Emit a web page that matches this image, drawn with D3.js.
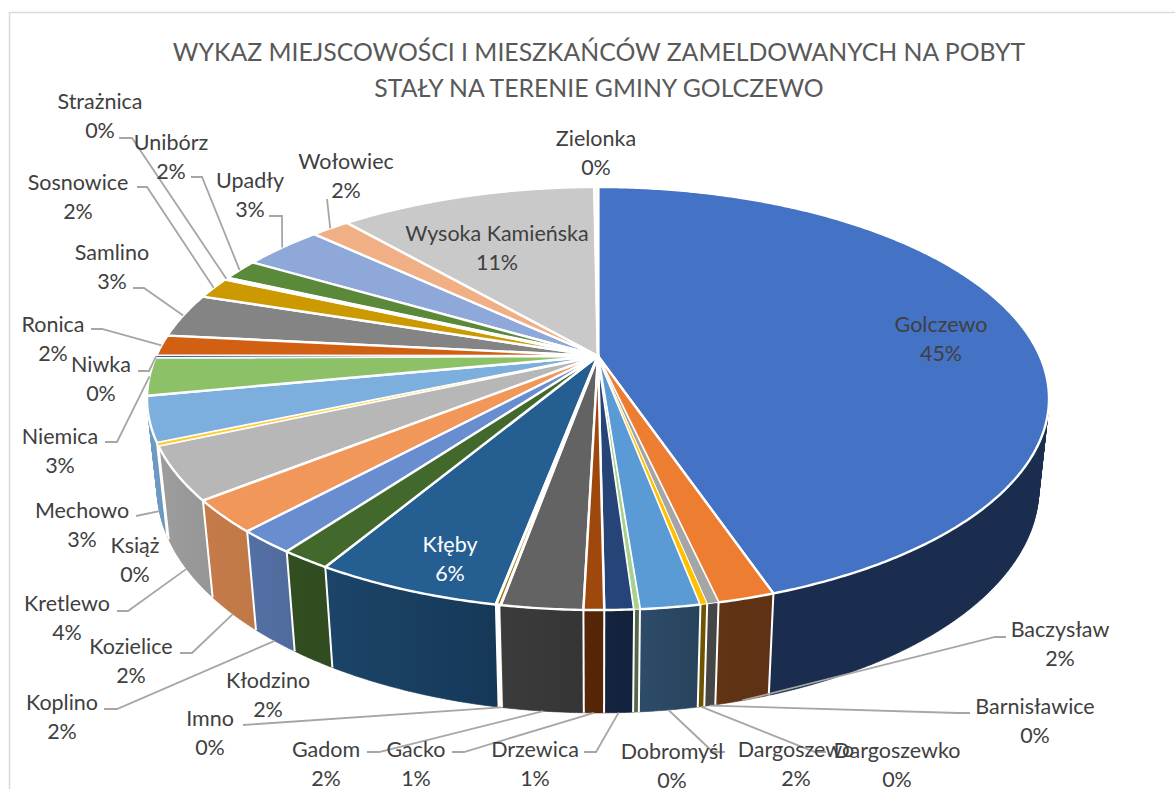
<!DOCTYPE html>
<html><head><meta charset="utf-8">
<style>html,body{margin:0;padding:0;background:#fff}svg{display:block}</style>
<script src="https://cdn.jsdelivr.net/npm/d3@7/dist/d3.min.js"></script>
</head><body><svg id="c" width="1175" height="789"></svg>
<script>
const titleLines = ["WYKAZ MIEJSCOWOŚCI I MIESZKAŃCÓW ZAMELDOWANYCH NA POBYT","STAŁY NA TERENIE GMINY GOLCZEWO"];
const categories = ["Golczewo","Baczysław","Barnisławice","Dargoszewko","Dargoszewo","Dobromyśl","Drzewica","Gacko","Gadom","Imno","Kłęby","Kłodzino","Koplino","Kozielice","Kretlewo","Książ","Mechowo","Niemica","Niwka","Ronica","Samlino","Sosnowice","Strażnica","Unibórz","Upadły","Wołowiec","Wysoka Kamieńska","Zielonka"];
const shares = [44.8,1.69,0.34,0.2,1.77,0.17,0.86,0.6,2.41,0.14,5.56,1.52,1.78,2.47,4.04,0.22,3.43,2.89,0.16,1.6,3.4,1.66,0.14,1.64,3.49,1.67,11.22,0.15];
const colors = ["#4472c4","#ed7d31","#a5a5a5","#ffc000","#5b9bd5","#a9d18e","#264478","#9e480e","#636363","#997300","#255e91","#43682b","#698ed0","#f1975a","#b7b7b7","#ffcd33","#7cafdd","#8cc168","#335aa1","#d26012","#848484","#cc9a00","#4e86c0","#5a8a39","#8fa8da","#f1af85","#c9c9c9","#ffd966"];
const labelBoxes = {
 "Golczewo":[941,325],"Baczysław":[1060,630],"Barnisławice":[1035,707],"Dargoszewko":[897,751],"Dargoszewo":[796,750],"Dobromyśl":[672,752],"Drzewica":[535,750],"Gacko":[416,750],"Gadom":[326,750],"Imno":[210,719],"Kłęby":[450,545],"Kłodzino":[268,681],"Koplino":[62,703],"Kozielice":[131,647],"Kretlewo":[67,604],"Książ":[135,546],"Mechowo":[82,511],"Niemica":[60,437],"Niwka":[101,365],"Ronica":[53,325],"Samlino":[112,253],"Sosnowice":[78,183],"Strażnica":[100,102],"Unibórz":[171,143],"Upadły":[250,181],"Wołowiec":[346,162],"Wysoka Kamieńska":[497,234],"Zielonka":[596,139]};
const leaders = {
 "Baczysław":{z:1,pts:[[1006,637],[995,637]]},"Barnisławice":{z:1,pts:[[970,713],[958,713]]},"Dargoszewko":{z:1,pts:[[826,752],[815,752]]},"Dargoszewo":{z:1,pts:[[725,752],[713,752]]},"Drzewica":{z:1,pts:[[584,752],[596,752]]},"Gacko":{z:1,pts:[[452,752],[464,752]]},"Gadom":{z:1,pts:[[367,752],[379,752]]},"Imno":{z:1,pts:[[243,725]]},"Koplino":{z:1,pts:[[104,709],[117,709]]},"Kozielice":{z:1,pts:[[180,653],[192,653]]},"Kretlewo":{z:1,pts:[[117,611],[128,611]]},"Mechowo":{z:1,pts:[[136,516]]},"Niemica":{z:0,pts:[[105,442],[117,442]]},"Niwka":{z:0,pts:[[138,371],[149,371]]},"Ronica":{z:0,pts:[[91,329],[102,329]]},"Samlino":{z:0,pts:[[133,288],[144,288]]},"Sosnowice":{z:0,pts:[[137,187],[147,187]]},"Strażnica":{z:0,pts:[[119,138],[132,138]]},"Unibórz":{z:0,pts:[[191,177],[202,177]]},"Upadły":{z:0,pts:[[269,216],[282,216]]},"Wołowiec":{z:0,pts:[[327,199]]}};

// perspective of the pie: a circle seen from above, extruded downward
const cam = {cx:598, cy:356, A:441.8, B:203, k:0.201, m:0.022, D:90};
function project(theta, z){
  const u = Math.sin(theta), v = -Math.cos(theta);
  const w = 1 - cam.k*v + cam.m*z;
  return [cam.cx + cam.A*u/w, cam.cy + (cam.B*v + cam.D*z)/w];
}
const total = d3.sum(shares);
const color = d3.scaleOrdinal(categories, colors);
const arcs = d3.pie().sort(null).value((d,i)=>shares[i])(categories);
const svg = d3.select("#c");
const defs = svg.append("defs");
const line = d3.line();
const deg = Math.PI/180;
const shade = d3.scaleLinear().domain([90,165,180,200,225,250,270]).range([.36,.4,.53,.66,.8,.86,.9]).clamp(true);
const isHairline = i => shares[i] <= 0.15;

function angles(a0,a1){
  const n = Math.max(2, Math.ceil((a1-a0)/(0.5*deg)));
  return d3.range(n+1).map(i=>a0+(a1-a0)*i/n);
}

// chart frame
svg.append("path").attr("d","M9.5,789V12.5H1175").attr("fill","none").attr("stroke","#d9d9d9").attr("stroke-width",1.5);

// walls: swept as thin strips so the silhouette follows the vertical tangent
const wallGroup = svg.append("g");
const order = arcs.slice().sort((a,b)=>Math.abs((b.startAngle+b.endAngle)/2-Math.PI)-Math.abs((a.startAngle+a.endAngle)/2-Math.PI));
order.forEach(d=>{
  const id = "w"+d.index;
  const p0 = project(d.startAngle,1), p1 = project(d.endAngle,1);
  const g = defs.append("linearGradient").attr("id",id).attr("gradientUnits","userSpaceOnUse")
    .attr("x1",p0[0]).attr("y1",0).attr("x2",p1[0]+0.01).attr("y2",0);
  const base = d3.rgb(color(d.data));
  d3.range(5).forEach(i=>{
    const t=i/4, ang=(d.startAngle+(d.endAngle-d.startAngle)*t)/deg, f=shade(ang);
    g.append("stop").attr("offset",t).attr("stop-color",d3.rgb(base.r*f,base.g*f,base.b*f).formatHex());
  });
  const as = angles(d.startAngle,d.endAngle);
  const strips = d3.pairs(as).map(([a,b])=>line([project(a,0),project(b,0),project(b,1),project(a,1)])+"Z").join("");
  wallGroup.append("path").attr("d",strips).attr("fill",`url(#${id})`).attr("stroke",`url(#${id})`).attr("stroke-width",0.6);
});
// white seams between the walls that face the viewer
const seams = svg.append("g").attr("stroke","#fff").attr("fill","none");
arcs.filter(d=>d.startAngle<250*deg && d.startAngle>100*deg).forEach(d=>{
  const a = isHairline(d.index) ? (d.startAngle+d.endAngle)/2 : d.startAngle;
  seams.append("path").attr("stroke-width",isHairline(d.index)?4:2).attr("d",line([project(a,0),project(a,1)]));
});

// top faces; the thinnest slices show only as a wide white gap
const faces = svg.append("g");
arcs.slice().sort((a,b)=>(b.endAngle-b.startAngle)-(a.endAngle-a.startAngle)).forEach(d=>{
  const pts = [[cam.cx,cam.cy]].concat(angles(d.startAngle,d.endAngle).map(a=>project(a,0)));
  const s = shares[d.index];
  faces.append("path").attr("d",line(pts)+"Z").attr("fill",color(d.data))
    .attr("stroke","#fff").attr("stroke-width",s<=0.15?3:(s<0.4?1:2.4)).attr("stroke-linejoin","round");
});

// leaders
const leaderGroup = svg.append("g").attr("fill","none").attr("stroke","#a6a6a6").attr("stroke-width",1.8);
arcs.forEach(d=>{
  const L = leaders[d.data]; if(!L) return;
  const end = project((d.startAngle+d.endAngle)/2, L.z);
  leaderGroup.append("path").attr("d",line(L.pts.concat([end])));
});

// title
svg.append("text").attr("text-anchor","middle").attr("fill","#595959")
  .style("font-family","Lato").style("font-size","24.8px")
  .selectAll("tspan").data(titleLines).join("tspan").attr("x",599).attr("y",(d,i)=>61+i*36).text(d=>d);

// labels
const labels = svg.append("g").style("font-family","Lato").style("font-size","21.5px").attr("text-anchor","middle");
arcs.forEach(d=>{
  const [x,y] = labelBoxes[d.data];
  const fill = d.data==="Kłęby" ? "#ffffff" : "#404040";
  const t = labels.append("text").attr("fill",fill);
  t.append("tspan").attr("x",x).attr("y",y+7).text(d.data);
  t.append("tspan").attr("x",x).attr("y",y+36).text(Math.round(shares[d.index]/total*100)+"%");
});
</script></body></html>
